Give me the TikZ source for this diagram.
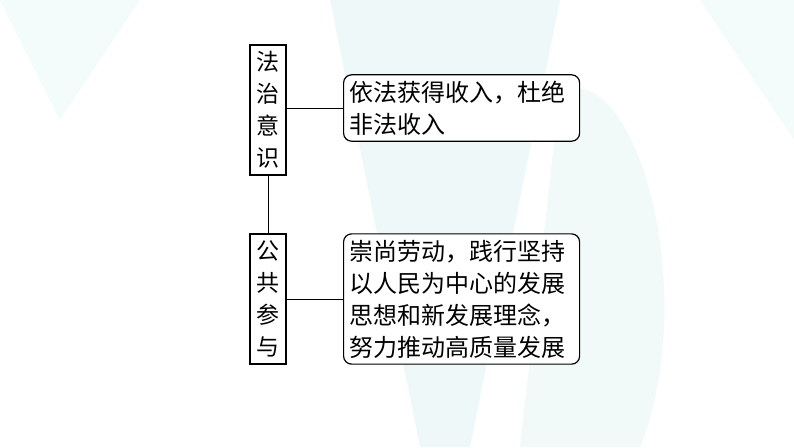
\documentclass[tikz,border=0pt]{standalone}
\usepackage{fontspec}
\newfontfamily\cjk{Noto Sans CJK SC}
\usetikzlibrary{positioning}
\definecolor{decoteal}{RGB}{120,200,200}

\begin{document}
\begin{tikzpicture}[
				x=1pt, y=-1pt,
				tagbox/.style={rectangle, draw, line width=1.2pt, fill=white, text width=24pt, align=center, minimum height=130pt, inner sep=6pt, font=\cjk\fontsize{23}{32}\selectfont},
				textbox/.style={rectangle, rounded corners=8pt, draw, line width=1.2pt, fill=white, text width=224pt, align=left, inner sep=6pt, font=\cjk\fontsize{24}{32}\selectfont}
				]
				\useasboundingbox (0,0) rectangle (794,447);
				% faint background shapes
				\fill[decoteal, opacity=0.12] (330,0) -- (560,0) -- (470,447) -- (420,447) -- cycle;
				\fill[decoteal, opacity=0.10] (560,90) .. controls (640,60) and (700,300) .. (640,447) -- (520,447) -- cycle;
				\fill[decoteal, opacity=0.08] (0,0) -- (140,0) -- (60,120) -- cycle;
				\fill[decoteal, opacity=0.08] (700,0) -- (794,0) -- (794,140) -- cycle;
				
				\node[tagbox] (fazhi) at (268,110) {法\\治\\意\\识};
				\node[tagbox] (gonggong) at (268,299) {公\\共\\参\\与};
				\node[textbox, anchor=west] (shouru) at (343,108) {依法获得收入，杜绝\\非法收入};
				\node[textbox, anchor=west] (laodong) at (343,299) {崇尚劳动，践行坚持\\以人民为中心的发展\\思想和新发展理念，\\努力推动高质量发展};
				
				\draw[line width=1pt] (fazhi) -- (gonggong);
				\draw[line width=1pt] (fazhi.east |- shouru) -- (shouru);
				\draw[line width=1pt] (gonggong) -- (laodong);
			\end{tikzpicture}
\end{document}
